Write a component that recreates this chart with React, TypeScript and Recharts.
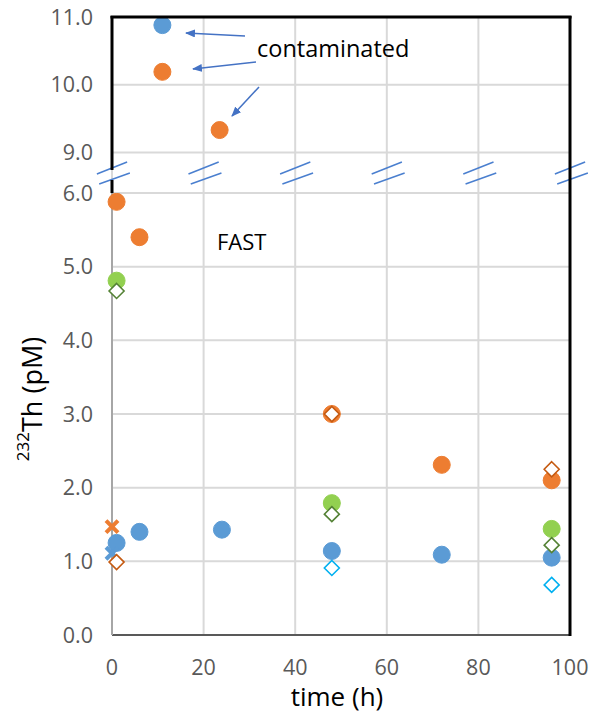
import React from 'react'
import { ScatterChart, Scatter, XAxis, YAxis, CartesianGrid, ReferenceLine } from 'recharts'

// time (h) vs 232Th (pM)
const xTicks = [0, 20, 40, 60, 80, 100]
const upperTicks = [9, 10, 11]
const lowerTicks = [0, 1, 2, 3, 4, 5, 6]

// contaminated samples (upper panel)
const upperBlue = [{ t: 11, th: 10.88 }]
const upperOrange = [
  { t: 11, th: 10.19 },
  { t: 23.5, th: 9.33 },
]

// lower panel
const blueDots = [
  { t: 1, th: 1.25 },
  { t: 6, th: 1.4 },
  { t: 24, th: 1.43 },
  { t: 48, th: 1.14 },
  { t: 72, th: 1.09 },
  { t: 96, th: 1.05 },
]
const orangeDots = [
  { t: 1, th: 5.88 },
  { t: 6, th: 5.4 },
  { t: 48, th: 3.0 },
  { t: 72, th: 2.31 },
  { t: 96, th: 2.1 },
]
const greenDots = [
  { t: 1, th: 4.81 },
  { t: 48, th: 1.79 },
  { t: 96, th: 1.44 },
]
const greenDiamonds = [
  { t: 1, th: 4.67 },
  { t: 48, th: 1.64 },
  { t: 96, th: 1.22 },
]
const orangeDiamonds = [
  { t: 1, th: 0.99 },
  { t: 48, th: 3.0 },
  { t: 96, th: 2.25 },
]
const cyanDiamonds = [
  { t: 48, th: 0.91 },
  { t: 96, th: 0.68 },
]
const orangeCross = [{ t: 0, th: 1.47 }]
const blueCross = [{ t: 0, th: 1.11 }]

const FONT = '"Open Sans", "Liberation Sans", sans-serif'
const tickStyle = { fill: '#595959', fontSize: 21.5, fontFamily: FONT }
const fmt = (v: number) => v.toFixed(1)

const dot = (color: string) => (p: any) => (
  <circle cx={p.cx} cy={p.cy} r={8.5} fill={color} stroke={color} strokeWidth={1} />
)
const diamond = (color: string) => (p: any) => {
  const s = 7.5
  return (
    <polygon
      points={`${p.cx},${p.cy - s} ${p.cx + s},${p.cy} ${p.cx},${p.cy + s} ${p.cx - s},${p.cy}`}
      fill="#fff"
      stroke={color}
      strokeWidth={1.6}
    />
  )
}
const cross = (color: string) => (p: any) => {
  const s = 6
  return (
    <g stroke={color} strokeWidth={4}>
      <line x1={p.cx - s} y1={p.cy - s} x2={p.cx + s} y2={p.cy + s} />
      <line x1={p.cx - s} y1={p.cy + s} x2={p.cx + s} y2={p.cy - s} />
    </g>
  )
}

const BLUE = '#5b9bd5'
const ORANGE = '#ed7d31'

const App = () => {
  return (
    <div style={{ position: 'absolute', left: 0, top: 0, width: 598, height: 724, background: '#fff' }}>
      {/* lower panel 0 - 6 */}
      <div style={{ position: 'absolute', left: 0, top: 0 }}>
        <ScatterChart width={598} height={724} margin={{ top: 193, right: 28, bottom: 39, left: 0 }}>
          <CartesianGrid stroke="#d9d9d9" strokeWidth={2} />
          <XAxis
            type="number"
            dataKey="t"
            domain={[0, 100]}
            ticks={xTicks}
            height={50}
            tick={tickStyle}
            tickLine={false}
            tickSize={0}
            tickMargin={25}
            axisLine={{ stroke: '#595959', strokeWidth: 2 }}
          />
          <YAxis
            type="number"
            dataKey="th"
            domain={[0, 6]}
            ticks={lowerTicks}
            width={112}
            tick={tickStyle}
            tickFormatter={fmt}
            tickLine={false}
            tickSize={0}
            tickMargin={19}
            axisLine={{ stroke: '#a6a6a6', strokeWidth: 2 }}
          />
          <Scatter data={blueDots} shape={dot(BLUE)} isAnimationActive={false} />
          <Scatter data={orangeDots} shape={dot(ORANGE)} isAnimationActive={false} />
          <Scatter data={greenDots} shape={dot('#92d050')} isAnimationActive={false} />
          <Scatter data={greenDiamonds} shape={diamond('#548235')} isAnimationActive={false} />
          <Scatter data={cyanDiamonds} shape={diamond('#00b0f0')} isAnimationActive={false} />
          <Scatter data={blueCross} shape={cross(BLUE)} isAnimationActive={false} />
          <Scatter data={orangeCross} shape={cross(ORANGE)} isAnimationActive={false} />
          <Scatter data={orangeDiamonds} shape={diamond('#c55a11')} isAnimationActive={false} />
        </ScatterChart>
      </div>

      {/* upper panel 9 - 11 */}
      <div style={{ position: 'absolute', left: 0, top: 0 }}>
        <ScatterChart width={598} height={193} margin={{ top: 17, right: 28, bottom: 0, left: 0 }}>
          <CartesianGrid stroke="#d9d9d9" strokeWidth={2} />
          <XAxis type="number" dataKey="t" domain={[0, 100]} ticks={xTicks} hide />
          <YAxis
            type="number"
            dataKey="th"
            domain={[8.4, 11]}
            ticks={upperTicks}
            width={112}
            tick={tickStyle}
            tickFormatter={fmt}
            tickLine={false}
            tickSize={0}
            tickMargin={19}
            axisLine={false}
          />
          <Scatter data={upperBlue} shape={dot(BLUE)} isAnimationActive={false} />
          <Scatter data={upperOrange} shape={dot(ORANGE)} isAnimationActive={false} />
          {xTicks.map((x) => (
            <ReferenceLine
              key={'a' + x}
              segment={[
                { x: x - 3.3, y: 8.68 },
                { x: x + 3.3, y: 8.858 },
              ]}
              stroke="#4a7fcf"
              strokeWidth={1.5}
              ifOverflow="visible"
            />
          ))}
          {xTicks.map((x) => (
            <ReferenceLine
              key={'b' + x}
              segment={[
                { x: x - 2.8, y: 8.533 },
                { x: x + 3.9, y: 8.695 },
              ]}
              stroke="#4a7fcf"
              strokeWidth={1.5}
              ifOverflow="visible"
            />
          ))}
        </ScatterChart>
      </div>

      {/* frame, annotations, titles */}
      <svg width={598} height={724} style={{ position: 'absolute', left: 0, top: 0, pointerEvents: 'none' }}>
        <defs>
          <marker id="ah" markerWidth="10" markerHeight="8" refX="9" refY="4" orient="auto" markerUnits="userSpaceOnUse">
            <path d="M0,0 L10,4 L0,8 z" fill="#4472c4" />
          </marker>
        </defs>
        <g stroke="#000" strokeWidth={3}>
          <line x1={110.5} y1={17} x2={571.5} y2={17} />
          <line x1={112} y1={16} x2={112} y2={170} />
          <line x1={112} y1={180} x2={112} y2={193} />
          <line x1={570} y1={16} x2={570} y2={636} />
        </g>
        <g stroke="#4472c4" strokeWidth={1.5} markerEnd="url(#ah)">
          <line x1={245} y1={36} x2={186} y2={33} />
          <line x1={256} y1={62} x2={193} y2={69} />
          <line x1={259} y1={87} x2={232} y2={116} />
        </g>
        <text x={257} y={57} fontSize={23.5} fontFamily={FONT} fill="#000">
          contaminated
        </text>
        <text x={217} y={250} fontSize={22} fontFamily={FONT} fill="#000">
          FAST
        </text>
        <text x={337} y={706} fontSize={26} fontFamily={FONT} fill="#000" textAnchor="middle">
          time (h)
        </text>
        <text transform="translate(42,399) rotate(-90)" fontFamily={FONT} fill="#000" textAnchor="middle">
          <tspan fontSize={17} dy={-13}>
            232
          </tspan>
          <tspan fontSize={27} dy={13}>
            Th (pM)
          </tspan>
        </text>
      </svg>
    </div>
  )
}

export default App
